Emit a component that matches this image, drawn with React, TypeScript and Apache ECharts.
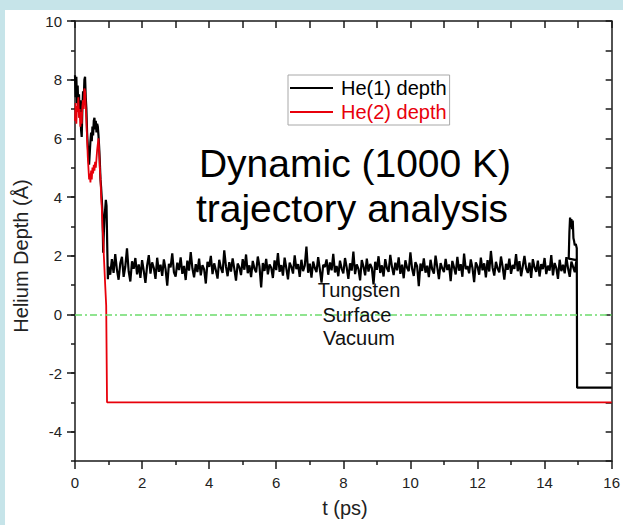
import React, { useEffect, useRef } from "react";
import * as echarts from "echarts";

const FONT = "'Liberation Sans', Arial, Helvetica, sans-serif";

// He(1) depth: initial descent (t, depth)
const he1Early: [number, number][] = [
  [0, 8.15], [0.02, 7.4], [0.04, 8.1], [0.06, 7.2], [0.08, 7.8], [0.1, 6.9], [0.12, 7.5], [0.14, 6.7],
  [0.16, 7.3], [0.18, 6.3], [0.2, 6.05], [0.22, 7.0], [0.24, 7.6], [0.26, 7.3], [0.28, 8.0], [0.3, 8.1],
  [0.32, 7.4], [0.34, 7.0], [0.36, 6.2], [0.38, 5.8], [0.4, 5.4], [0.42, 5.1], [0.44, 5.5], [0.46, 5.9],
  [0.48, 6.2], [0.5, 5.9], [0.52, 6.4], [0.54, 6.1], [0.56, 6.6], [0.58, 6.7], [0.6, 6.3], [0.62, 6.6],
  [0.64, 6.2], [0.66, 6.5], [0.68, 6.4], [0.7, 6.1], [0.72, 5.7], [0.74, 5.2], [0.76, 4.6], [0.78, 4.3],
  [0.8, 3.9], [0.82, 3.4], [0.84, 2.1], [0.86, 2.8], [0.88, 3.3], [0.9, 3.6], [0.92, 3.9], [0.94, 3.7],
  [0.96, 2.4], [0.98, 1.2],
];

// He(1) depth: fluctuation inside tungsten, sampled every 0.05 ps from t = 1.0 to 14.7
const he1PlateauStart = 1.0;
const he1PlateauStep = 0.05;
const he1Plateau: number[] = [
  1.62, 1.35, 1.88, 1.41, 2.05, 1.52, 1.18, 1.74, 1.96, 1.28, 1.63, 2.25, 1.47, 1.12, 1.81, 1.55, 1.92, 1.36, 1.70, 1.24,
  1.85, 1.48, 1.07, 1.66, 2.02, 1.39, 1.77, 1.58, 1.21, 1.93, 1.45, 1.69, 1.31, 1.87, 1.54, 0.98, 1.72, 1.60, 2.08, 1.43,
  1.29, 1.76, 1.51, 1.94, 1.38, 1.65, 1.17, 1.83, 1.49, 2.12, 1.57, 1.26, 1.71, 1.44, 1.90, 1.33, 1.68, 1.53, 1.05, 1.79,
  1.62, 1.99, 1.37, 1.74, 1.50, 1.22, 1.86, 1.58, 1.41, 2.18, 1.64, 1.30, 1.78, 1.46, 1.91, 1.55, 1.15, 1.73, 1.61, 1.34,
  1.88, 1.52, 2.04, 1.40, 1.67, 1.27, 1.82, 1.56, 1.43, 1.97, 1.63, 0.92, 1.75, 1.48, 1.89, 1.36, 1.70, 1.59, 1.24, 1.84,
  1.51, 2.09, 1.45, 1.68, 1.32, 1.93, 1.57, 1.19, 1.76, 1.62, 1.39, 2.01, 1.54, 1.71, 1.28, 1.86, 1.47, 1.66, 2.31, 1.42,
  1.73, 1.25, 1.80, 1.58, 1.44, 1.95, 1.53, 1.08, 1.69, 1.61, 1.87, 1.35, 1.77, 1.50, 2.06, 1.43, 1.65, 1.30, 1.83, 1.56,
  1.40, 1.92, 1.60, 1.21, 1.74, 1.49, 2.14, 1.37, 1.70, 1.55, 1.16, 1.85, 1.63, 1.33, 1.90, 1.46, 1.72, 1.58, 1.02, 1.79,
  1.52, 1.98, 1.41, 1.67, 1.29, 1.88, 1.57, 1.45, 2.03, 1.62, 1.34, 1.76, 1.50, 1.94, 1.38, 1.69, 1.23, 1.84, 1.59, 1.47,
  2.11, 1.55, 1.31, 1.78, 1.64, 0.96, 1.73, 1.48, 1.91, 1.42, 1.66, 1.27, 1.86, 1.53, 1.39, 2.00, 1.61, 1.20, 1.75, 1.57,
  1.44, 1.89, 1.51, 1.70, 1.13, 1.82, 1.60, 1.36, 1.96, 1.49, 1.71, 1.28, 2.07, 1.54, 1.65, 1.40, 1.87, 1.58, 1.10, 1.77,
  1.63, 1.35, 1.93, 1.50, 1.74, 1.26, 1.85, 1.46, 2.16, 1.59, 1.32, 1.79, 1.56, 1.43, 1.97, 1.62, 1.18, 1.72, 1.52, 1.90,
  1.38, 1.68, 1.55, 2.05, 1.47, 1.81, 1.30, 1.64, 1.99, 1.57, 1.41, 1.76, 1.24, 1.88, 1.60, 1.45, 1.83, 1.29, 1.71, 1.54,
  1.92, 1.37, 1.66, 1.49, 2.02, 1.33, 1.75, 1.58, 1.21, 1.86, 1.47, 1.69, 1.40, 1.95, 1.56, 1.28, 1.80, 1.62, 1.44, 1.85,
];

// He(1) depth: surface excursion and escape to vacuum
const he1Late: [number, number][] = [
  [14.72, 1.9], [14.74, 2.8], [14.76, 3.3], [14.78, 3.1], [14.8, 3.25], [14.82, 2.9], [14.84, 3.2],
  [14.86, 2.6], [14.88, 2.5], [14.9, 2.35], [14.93, 2.4], [14.96, 2.25], [14.97, -2.5], [16, -2.5],
];

// He(2) depth
const he2Data: [number, number][] = [
  [0, 6.6], [0.02, 7.2], [0.04, 6.5], [0.06, 7.1], [0.08, 6.9], [0.1, 7.4], [0.12, 6.7], [0.14, 7.0],
  [0.16, 6.4], [0.18, 6.9], [0.2, 6.5], [0.22, 7.1], [0.24, 7.3], [0.26, 7.0], [0.28, 7.7], [0.3, 7.6],
  [0.32, 7.1], [0.34, 6.6], [0.36, 6.0], [0.38, 5.4], [0.4, 5.0], [0.42, 4.6], [0.44, 4.8], [0.46, 4.5],
  [0.48, 4.9], [0.5, 4.6], [0.52, 5.0], [0.54, 4.8], [0.56, 5.1], [0.58, 4.9], [0.6, 5.2], [0.62, 5.0],
  [0.64, 5.3], [0.66, 5.6], [0.68, 5.8], [0.7, 6.0], [0.72, 5.6], [0.74, 5.0], [0.76, 4.6], [0.78, 4.0],
  [0.8, 3.6], [0.82, 3.0], [0.84, 2.6], [0.86, 2.0], [0.88, 1.5], [0.9, 1.0], [0.93, 0.3], [0.955, -3.0],
  [16, -3.0],
];

const seriesNames = ["He(1) depth", "He(2) depth"];
const yLabelValues = [-4, -2, 0, 2, 4, 6, 8, 10];
const surfaceLevel = 0;

const AXIS_COLOR = "#1a1a1a";
const RED = "#e8000b";
const GREEN = "#6cdc6c";

export default function App() {
  const ref = useRef<HTMLDivElement>(null);

  useEffect(() => {
    if (!ref.current) return;
    const chart = echarts.init(ref.current, undefined, { renderer: "svg" });

    const he1Data: [number, number][] = [
      ...he1Early,
      ...he1Plateau.map((v, i) => [+(he1PlateauStart + i * he1PlateauStep).toFixed(2), v] as [number, number]),
      ...he1Late,
    ];

    const grid = { left: 75, right: 7, top: 21, bottom: 64 };
    const line = { show: true, onZero: false, lineStyle: { color: AXIS_COLOR, width: 1.5 } };
    const tickStyle = { color: AXIS_COLOR, width: 1.5 };

    const option: any = {
      animation: false,
      backgroundColor: "#c6e4e9",
      grid: [grid, { ...grid }],
      xAxis: [
        {
          type: "value", gridIndex: 0, position: "bottom", min: 0, max: 16, interval: 2,
          axisLine: line,
          axisTick: { show: true, inside: false, length: 8, lineStyle: tickStyle },
          minorTick: { show: true, splitNumber: 2, length: 4, lineStyle: tickStyle },
          axisLabel: { fontSize: 15, color: "#222", margin: 14, fontFamily: FONT },
          splitLine: { show: false },
        },
        {
          type: "value", gridIndex: 0, position: "top", min: 0, max: 16, interval: 1,
          axisLine: line,
          axisTick: { show: true, inside: true, length: 7, lineStyle: tickStyle },
          axisLabel: { show: false },
          splitLine: { show: false },
        },
        {
          type: "value", gridIndex: 1, min: 0, max: 16, show: false,
        },
      ],
      yAxis: [
        {
          type: "value", gridIndex: 0, position: "left", min: -5, max: 10, interval: 1,
          axisLine: line,
          axisTick: { show: true, inside: false, length: 4, lineStyle: tickStyle },
          axisLabel: { show: false },
          splitLine: { show: false },
        },
        {
          type: "value", gridIndex: 0, position: "right", min: -5, max: 10, interval: 1,
          axisLine: line,
          axisTick: { show: true, inside: true, length: 6, lineStyle: tickStyle },
          axisLabel: { show: false },
          splitLine: { show: false },
        },
        {
          type: "value", gridIndex: 1, position: "left", min: -5, max: 10, interval: 1,
          axisLine: { show: false },
          axisTick: { show: true, inside: false, length: 8, lineStyle: tickStyle, customValues: yLabelValues },
          axisLabel: { fontSize: 15, color: "#222", margin: 13, fontFamily: FONT, customValues: yLabelValues },
          splitLine: { show: false },
        },
      ],
      legend: {
        orient: "vertical",
        left: 288,
        top: 75,
        padding: [3, 3, 3, 2],
        itemGap: 4,
        itemWidth: 43,
        itemHeight: 2,
        icon: "rect",
        borderColor: "#a8a8a8",
        borderWidth: 1,
        backgroundColor: "#fff",
        textStyle: { fontSize: 20, fontFamily: FONT, padding: [0, 0, 0, 3], lineHeight: 20 },
        data: [
          { name: seriesNames[0], textStyle: { color: "#000" } },
          { name: seriesNames[1], textStyle: { color: RED } },
        ],
      },
      graphic: [
        {
          type: "rect", z: -10, silent: true,
          shape: { x: 5, y: 10, width: 618, height: 515 },
          style: { fill: "#ffffff" },
        },
        {
          type: "text", z: 100, x: 355, y: 163,
          style: { text: "Dynamic (1000 K)", fontSize: 39, fontFamily: FONT, fill: "#000", align: "center", verticalAlign: "middle" },
        },
        {
          type: "text", z: 100, x: 352, y: 208,
          style: { text: "trajectory analysis", fontSize: 39, fontFamily: FONT, fill: "#000", align: "center", verticalAlign: "middle" },
        },
        {
          type: "text", z: 100, x: 359, y: 290,
          style: { text: "Tungsten", fontSize: 20, fontFamily: FONT, fill: "#111", align: "center", verticalAlign: "middle" },
        },
        {
          type: "text", z: 100, x: 357, y: 315,
          style: { text: "Surface", fontSize: 20, fontFamily: FONT, fill: "#111", align: "center", verticalAlign: "middle" },
        },
        {
          type: "text", z: 100, x: 359, y: 338,
          style: { text: "Vacuum", fontSize: 20, fontFamily: FONT, fill: "#111", align: "center", verticalAlign: "middle" },
        },
        {
          type: "text", z: 100, x: 21, y: 256, rotation: Math.PI / 2,
          style: { text: "Helium Depth (Å)", fontSize: 20, fontFamily: FONT, fill: "#222", align: "center", verticalAlign: "middle" },
        },
        {
          type: "text", z: 100, x: 345, y: 508,
          style: { text: "t (ps)", fontSize: 20, fontFamily: FONT, fill: "#222", align: "center", verticalAlign: "middle" },
        },
      ],
      series: [
        {
          name: seriesNames[0],
          type: "line",
          xAxisIndex: 0,
          yAxisIndex: 0,
          data: he1Data,
          symbol: "none",
          lineStyle: { color: "#000", width: 2.2 },
          itemStyle: { color: "#000" },
          z: 3,
          markLine: {
            silent: true,
            symbol: ["none", "none"],
            label: { show: false },
            lineStyle: { color: GREEN, width: 1.5, type: [7, 3, 2, 3] },
            data: [{ yAxis: surfaceLevel }],
          },
        },
        {
          name: seriesNames[1],
          type: "line",
          xAxisIndex: 0,
          yAxisIndex: 0,
          data: he2Data,
          symbol: "none",
          lineStyle: { color: RED, width: 1.8 },
          itemStyle: { color: RED },
          z: 4,
        },
      ],
    };

    chart.setOption(option);
    return () => chart.dispose();
  }, []);

  return (
    <div
      ref={ref}
      style={{ position: "fixed", left: 0, top: 0, width: 623, height: 525 }}
    />
  );
}
